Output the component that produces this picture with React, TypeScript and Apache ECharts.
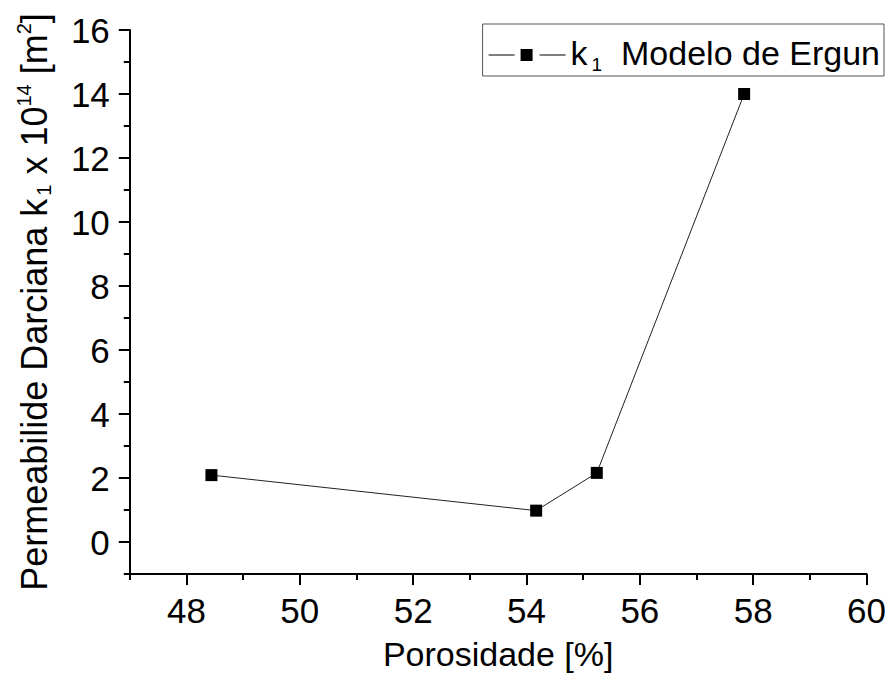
import React, { useEffect, useRef } from "react";
import * as echarts from "echarts";

const xValues = [48.44, 54.17, 55.24, 57.84];
const yValues = [2.09, 0.98, 2.16, 14.0];
const xMajorTicks = [48, 50, 52, 54, 56, 58, 60];
const xMinorTicks = [47, 49, 51, 53, 55, 57, 59];
const yMajorTicks = [0, 2, 4, 6, 8, 10, 12, 14, 16];
const yMinorTicks = [-1, 1, 3, 5, 7, 9, 11, 13, 15];
const seriesName = "k1";
const legendLabel = "Modelo de Ergun";
const xTitle = "Porosidade [%]";

const FONT = "Liberation Sans, Arial, sans-serif";
const LEGEND_ICON =
  "path://M0,5.5 L26,5.5 L26,6.5 L0,6.5 Z M32,0 L44,0 L44,12 L32,12 Z M51,5.5 L77,5.5 L77,6.5 L51,6.5 Z";

export default function App() {
  const ref = useRef<HTMLDivElement>(null);
  useEffect(() => {
    if (!ref.current) return;
    const chart = echarts.init(ref.current, undefined, { renderer: "svg" });
    const data = xValues.map((x, i) => [x, yValues[i]]);
    const axisLineStyle = { color: "#000", width: 2 };
    chart.setOption({
      animation: false,
      backgroundColor: "#fff",
      textStyle: { fontFamily: FONT },
      grid: { left: 128, right: 22, top: 30, bottom: 105 },
      legend: {
        data: [{ name: seriesName, icon: LEGEND_ICON, itemStyle: { color: "#000", borderWidth: 0 } }],
        right: 5,
        top: 24,
        itemWidth: 77,
        itemHeight: 12,
        itemGap: 0,
        borderColor: "#555",
        borderWidth: 1,
        padding: [2, 4, 2, 6],
        formatter: () => `{k|k}{s|1}{t|  ${legendLabel}}`,
        textStyle: {
          color: "#000",
          fontFamily: FONT,
          fontSize: 34,
          rich: {
            k: { fontSize: 34, lineHeight: 38, verticalAlign: "top", color: "#000", fontFamily: FONT },
            s: { fontSize: 19, lineHeight: 20, padding: [29, 0, 0, 4], verticalAlign: "bottom", color: "#000", fontFamily: FONT },
            t: { fontSize: 34, lineHeight: 38, verticalAlign: "top", color: "#000", fontFamily: FONT },
          },
        },
      },
      xAxis: [
        {
          type: "value",
          min: 47,
          max: 60,
          position: "bottom",
          axisLine: { show: true, onZero: false, lineStyle: axisLineStyle },
          axisTick: { show: true, length: 11, lineStyle: axisLineStyle, customValues: xMajorTicks },
          axisLabel: { customValues: xMajorTicks, fontSize: 35, color: "#000", margin: 19, fontFamily: FONT },
          splitLine: { show: false },
          name: xTitle,
          nameLocation: "middle",
          nameGap: 63,
          nameTextStyle: { fontSize: 34, color: "#000", fontFamily: FONT },
        },
        {
          type: "value",
          min: 47,
          max: 60,
          position: "bottom",
          axisLine: { show: false, onZero: false },
          axisTick: { show: true, length: 6, lineStyle: axisLineStyle, customValues: xMinorTicks },
          axisLabel: { show: false },
          splitLine: { show: false },
        },
      ],
      yAxis: [
        {
          type: "value",
          min: -1,
          max: 16,
          position: "left",
          axisLine: { show: true, onZero: false, lineStyle: axisLineStyle },
          axisTick: { show: true, length: 11, lineStyle: axisLineStyle, customValues: yMajorTicks },
          axisLabel: { customValues: yMajorTicks, fontSize: 35, color: "#000", margin: 20, fontFamily: FONT },
          splitLine: { show: false },
          name: "{a|Permeabilide Darciana k}{s|1}{a| x 10}{p|14}{a| [m}{p|2}{a|]}",
          nameLocation: "middle",
          nameRotate: 90,
          nameGap: 52,
          nameTextStyle: {
            fontSize: 36,
            color: "#000",
            fontFamily: FONT,
            rich: {
              a: { fontSize: 36, lineHeight: 40, padding: [8, 0, 8, 0], verticalAlign: "middle", color: "#000", fontFamily: FONT },
              s: { fontSize: 20, lineHeight: 20, verticalAlign: "bottom", padding: [0, 0, 0, 3], color: "#000", fontFamily: FONT },
              p: { fontSize: 20, lineHeight: 20, verticalAlign: "top", color: "#000", fontFamily: FONT },
            },
          },
        },
        {
          type: "value",
          min: -1,
          max: 16,
          position: "left",
          axisLine: { show: false, onZero: false },
          axisTick: { show: true, length: 6, lineStyle: axisLineStyle, customValues: yMinorTicks },
          axisLabel: { show: false },
          splitLine: { show: false },
        },
      ],
      series: [
        {
          name: seriesName,
          type: "line",
          xAxisIndex: 0,
          yAxisIndex: 0,
          data,
          symbol: "rect",
          symbolSize: 12,
          itemStyle: { color: "#000" },
          lineStyle: { color: "#222", width: 1 },
        },
      ],
    });
    return () => chart.dispose();
  }, []);
  return (
    <div
      ref={ref}
      style={{ position: "fixed", left: 0, top: 0, width: 889, height: 679, background: "#fff" }}
    />
  );
}
